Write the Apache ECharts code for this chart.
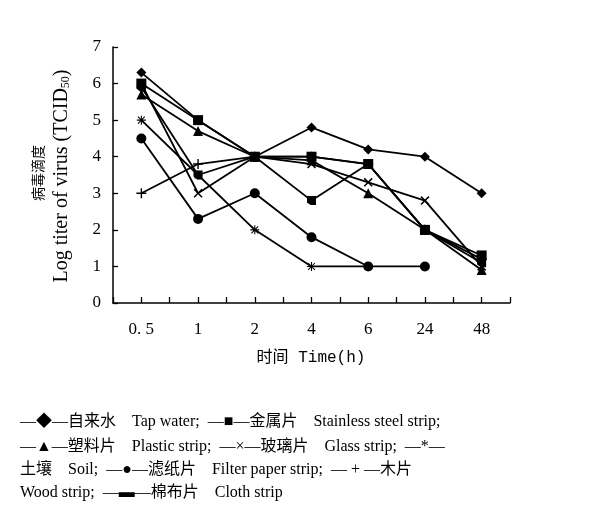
<!DOCTYPE html>
<html><head><meta charset="utf-8">
<script src="https://cdn.jsdelivr.net/npm/echarts@6/dist/echarts.min.js"></script>
<style>html,body{margin:0;padding:0;background:#fff}#c{width:591px;height:517px}</style>
</head><body><div id="c"></div>
<script>
var categories = ['0. 5', '1', '2', '4', '6', '24', '48'];
var yTicks = [0, 1, 2, 3, 4, 5, 6, 7];
var tapWater = [6.3, 5.0, 4.0, 4.8, 4.2, 4.0, 3.0];
var steel = [6.0, 5.0, 4.0, 4.0, 3.8, 2.0, 1.3];
var plastic = [5.7, 4.7, 4.0, 3.9, 3.0, 2.0, 0.9];
var glass = [6.0, 3.0, 4.0, 3.8, 3.3, 2.8, 1.0];
var soil = [5.0, 3.5, 2.0, 1.0, 1.0, null, null];
var filterPaper = [4.5, 2.3, 3.0, 1.8, 1.0, 1.0, null];
var wood = [3.0, 3.8, 4.0, 4.0, 3.8, 2.0, 1.2];
var cloth = [5.9, 3.5, 4.0, 2.8, 3.8, 2.0, 1.1];

var SERIF = '"Liberation Serif","Noto Sans CJK SC",serif';
var SYM = {
  cross: 'path://M0,1.2 L1.2,0 L10,8.8 L8.8,10 Z M8.8,0 L10,1.2 L1.2,10 L0,8.8 Z',
  plus: 'path://M4.3,0 H5.7 V4.3 H10 V5.7 H5.7 V10 H4.3 V5.7 H0 V4.3 H4.3 Z',
  star: 'path://M4.4,0 H5.6 V10 H4.4 Z M0,4.4 H10 V5.6 H0 Z M0.8,1.6 L1.6,0.8 L9.2,8.4 L8.4,9.2 Z M8.4,0.8 L9.2,1.6 L1.6,9.2 L0.8,8.4 Z',
  flag: 'path://M0,0 H10 V10 H4 L0,7 Z'
};
function toXY(arr){ var out=[]; for(var i=0;i<arr.length;i++){ if(arr[i]!==null) out.push([i, arr[i]]); } return out; }
function mk(name, arr, symbol, size){
  return { name:name, type:'line', data:toXY(arr), symbol:symbol, symbolSize:size,
    showAllSymbol:true, connectNulls:false,
    lineStyle:{color:'#000', width:1.8}, itemStyle:{color:'#000', borderColor:'#000', borderWidth:0},
    emphasis:{disabled:true}, animation:false, z:3 };
}
var chart = echarts.init(document.getElementById('c'));
chart.setOption({
  backgroundColor:'#fff',
  animation:false,
  grid:{left:113, right:81, top:47, bottom:214},
  xAxis:{ type:'value', min:-0.5, max:categories.length-0.5, interval:0.5,
    axisLine:{onZero:false, lineStyle:{color:'#000', width:1.5}},
    axisTick:{inside:true, length:6, lineStyle:{color:'#000', width:1.3}},
    splitLine:{show:false},
    axisLabel:{ color:'#000', fontFamily:SERIF, fontSize:17, margin:18,
      formatter:function(v){ var i=Math.round(v); return (Math.abs(v-i)<1e-6 && i>=0 && i<categories.length)?categories[i]:''; } }
  },
  yAxis:{ type:'value', min:yTicks[0], max:yTicks[yTicks.length-1], interval:1,
    axisLine:{show:true, onZero:false, lineStyle:{color:'#000', width:1.5}},
    axisTick:{show:true, inside:true, length:5, lineStyle:{color:'#000', width:1.3}},
    splitLine:{show:false},
    axisLabel:{color:'#000', fontFamily:SERIF, fontSize:17, margin:12}
  },
  series:[
    mk('自来水 Tap water', tapWater, 'diamond', 10),
    mk('金属片 Stainless steel strip', steel, 'rect', 10),
    mk('塑料片 Plastic strip', plastic, 'triangle', 10),
    mk('玻璃片 Glass strip', glass, SYM.cross, 9),
    mk('土壤 Soil', soil, SYM.star, 9),
    mk('滤纸片 Filter paper strip', filterPaper, 'circle', 10),
    mk('木片 Wood strip', wood, SYM.plus, 10),
    mk('棉布片 Cloth strip', cloth, SYM.flag, 9)
  ],
  graphic:[
    {type:'text', x:38, y:173, rotation:Math.PI/2,
      style:{text:'病毒滴度', fill:'#000', font:'14px "Noto Sans CJK SC"', textAlign:'center', textVerticalAlign:'middle'}},
    {type:'text', x:62, y:176, rotation:Math.PI/2,
      style:{text:'Log titer of virus (TCID{s|50})', fill:'#000', font:'20px "Liberation Serif"', textAlign:'center', textVerticalAlign:'middle',
        rich:{s:{fontSize:12, fontFamily:'Liberation Serif', verticalAlign:'bottom', padding:[7,0,0,0]}}}},
    {type:'text', x:311, y:358,
      style:{text:'时间 Time(h)', fill:'#000', font:'16px "Liberation Mono","Noto Sans CJK SC"', textAlign:'center', textVerticalAlign:'middle'}},
    {type:'text', x:20, y:422, style:{text:'—◆—自来水    Tap water;  —■—金属片    Stainless steel strip;', fill:'#000', font:'16px '+SERIF, textVerticalAlign:'middle'}},
    {type:'text', x:20, y:447, style:{text:'—▲—塑料片    Plastic strip;  —×—玻璃片    Glass strip;  —*—', fill:'#000', font:'16px '+SERIF, textVerticalAlign:'middle'}},
    {type:'text', x:20, y:470, style:{text:'土壤    Soil;  —●—滤纸片    Filter paper strip;  — + —木片', fill:'#000', font:'16px '+SERIF, textVerticalAlign:'middle'}},
    {type:'text', x:20, y:493, style:{text:'Wood strip;  —▬—棉布片    Cloth strip', fill:'#000', font:'16px '+SERIF, textVerticalAlign:'middle'}}
  ]
});
</script></body></html>
